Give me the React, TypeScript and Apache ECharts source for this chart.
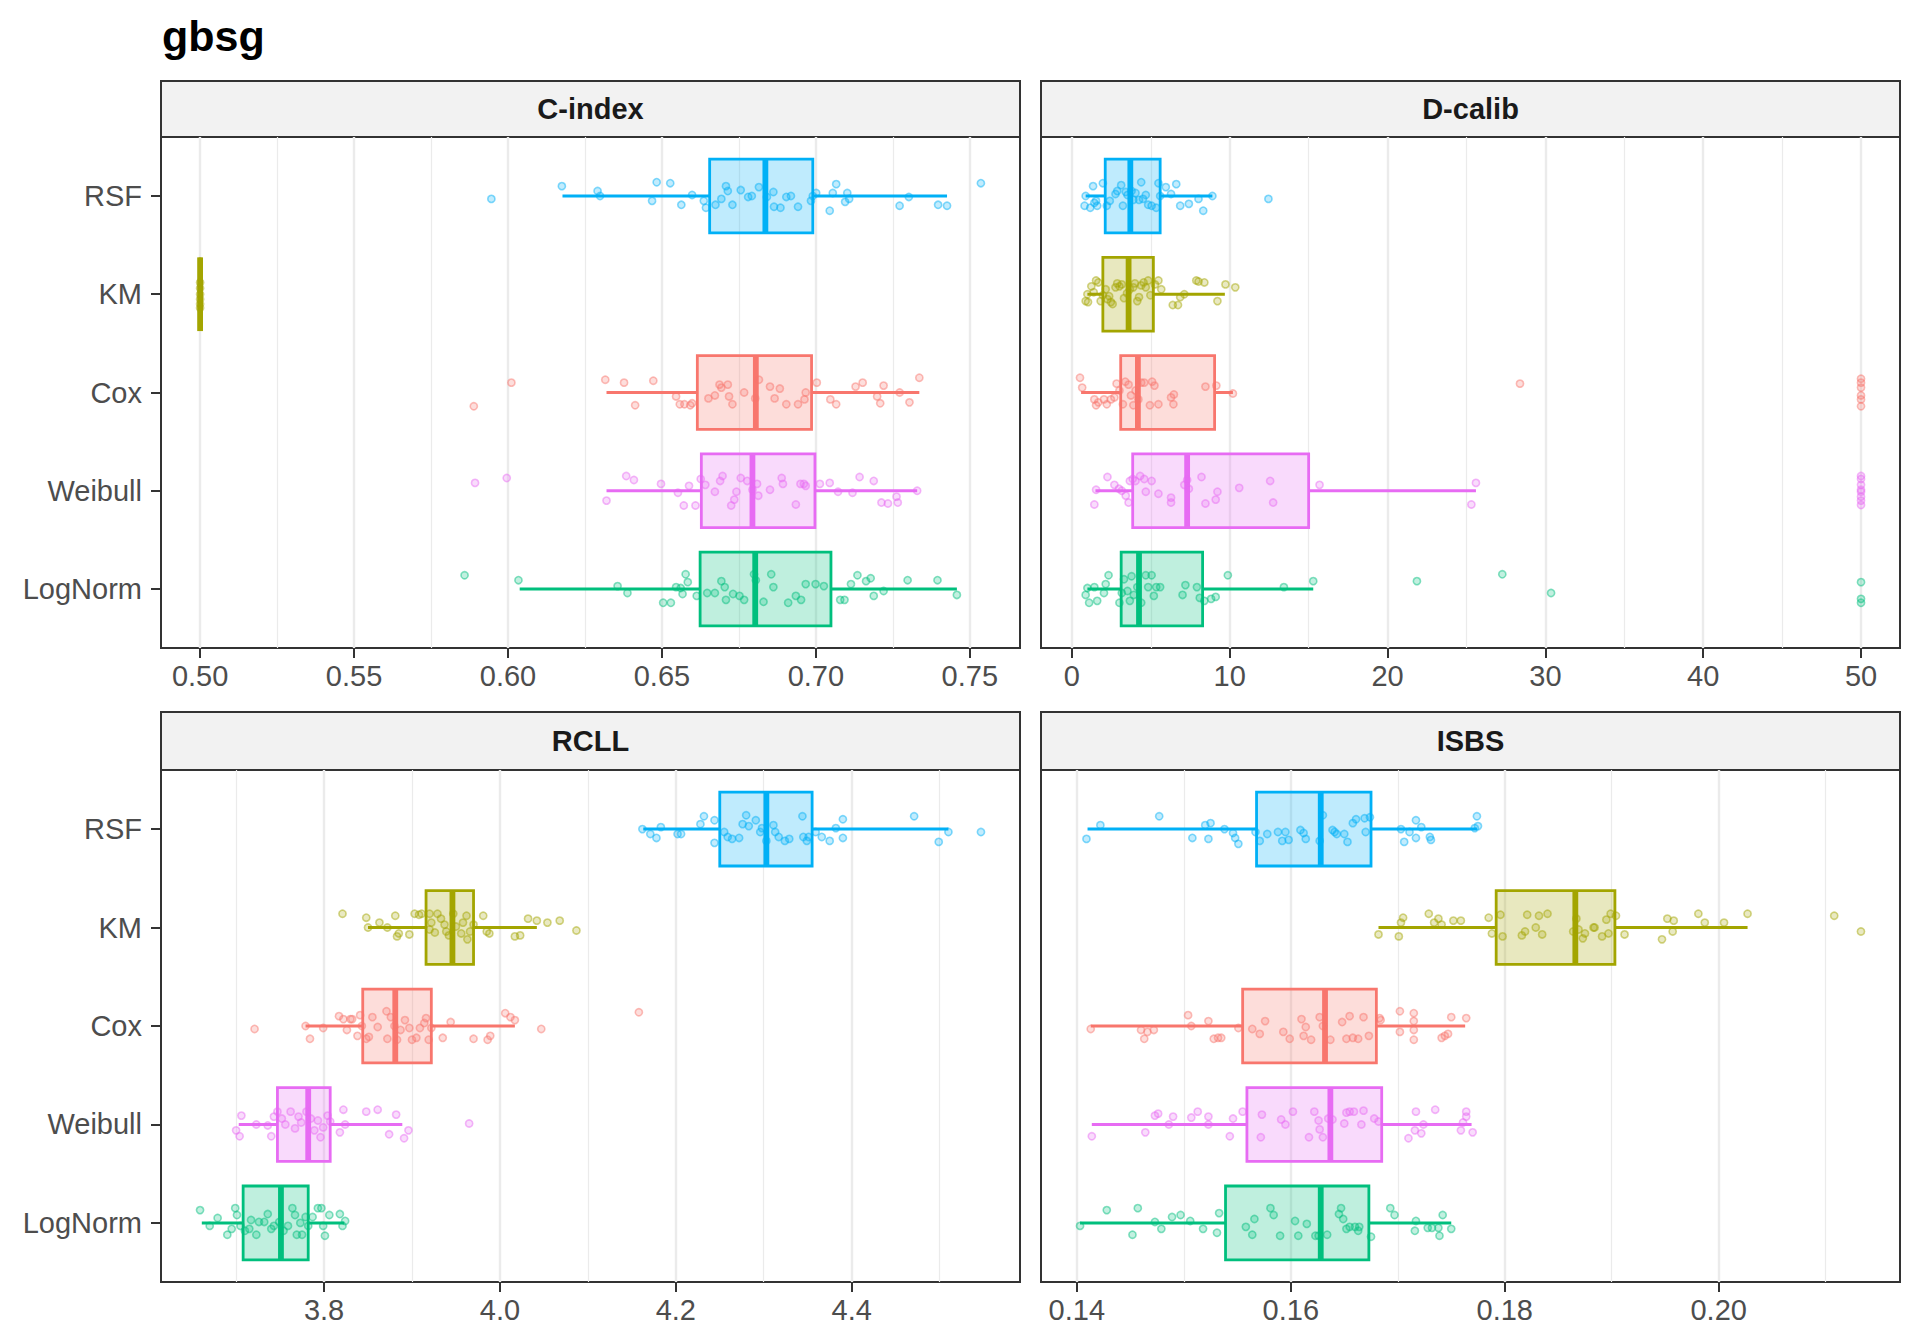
import * as echarts from 'echarts';
import React, { useEffect, useRef } from 'react';

const FONT = '"Liberation Sans", Arial, Helvetica, sans-serif';

const methods = ['RSF', 'KM', 'Cox', 'Weibull', 'LogNorm'];
const colors = ['#00B0F6', '#A3A500', '#F8766D', '#E76BF3', '#00BF7D'];

// box stats per method: [lower whisker, Q1, median, Q3, upper whisker]
const cBox = [
  [0.6177, 0.6655, 0.6836, 0.699, 0.7426],
  [0.5, 0.5, 0.5, 0.5, 0.5],
  [0.632, 0.6615, 0.6805, 0.6986, 0.7336],
  [0.632, 0.6628, 0.6794, 0.6997, 0.7329],
  [0.6038, 0.6624, 0.6803, 0.7049, 0.7458],
];
const dBox = [
  [0.87, 2.11, 3.7, 5.59, 8.9],
  [0.98, 1.96, 3.59, 5.16, 9.69],
  [0.58, 3.09, 4.18, 9.04, 10.2],
  [1.49, 3.85, 7.3, 15.0, 25.6],
  [0.98, 3.12, 4.25, 8.28, 15.29],
];
const rBox = [
  [4.163, 4.25, 4.303, 4.355, 4.51],
  [3.85, 3.916, 3.946, 3.97, 4.042],
  [3.779, 3.844, 3.881, 3.922, 4.017],
  [3.703, 3.747, 3.782, 3.807, 3.889],
  [3.661, 3.708, 3.751, 3.782, 3.823],
];
const iBox = [
  [0.141, 0.1568, 0.1628, 0.1675, 0.1774],
  [0.1682, 0.1792, 0.1866, 0.1903, 0.2027],
  [0.1413, 0.1555, 0.1632, 0.168, 0.1763],
  [0.1414, 0.1559, 0.1637, 0.1685, 0.1769],
  [0.1403, 0.1539, 0.1628, 0.1673, 0.175],
];

// jittered runs: [value, vertical jitter]
const cRsf = [[0.5946,0.03],[0.6175,-0.1],[0.6291,-0.05],[0.6299,0],[0.6468,0.05],[0.6483,-0.14],[0.6527,-0.13],[0.6563,0.09],[0.6598,-0.01],[0.6636,0.05],[0.6643,0.12],[0.6674,0.09],[0.6693,0.03],[0.6708,-0.1],[0.6714,-0.05],[0.6729,0.09],[0.6756,-0.06],[0.678,0.01],[0.6792,0],[0.6815,-0.09],[0.6841,0.01],[0.6862,-0.04],[0.6864,0.11],[0.6885,0.12],[0.6904,0.01],[0.6919,0],[0.6942,0.11],[0.6984,0.05],[0.699,0],[0.7001,-0.03],[0.7045,0.15],[0.7055,-0.03],[0.7066,-0.12],[0.7095,0.06],[0.7102,-0.03],[0.7108,0.03],[0.7272,0.1],[0.7302,0.01],[0.7397,0.09],[0.7426,0.1],[0.7536,-0.13]];
const cKm = [[0.5,-0.12],[0.5,-0.06],[0.5,0],[0.5,0.05],[0.5,0.1],[0.5,0.14]];
const cCox = [[0.5889,0.14],[0.6011,-0.1],[0.6316,-0.13],[0.6377,-0.1],[0.6413,0.13],[0.6472,-0.12],[0.6546,0.04],[0.6558,0.12],[0.6573,0.12],[0.6592,0.13],[0.6598,0.11],[0.6651,0.06],[0.6672,0.03],[0.6687,-0.08],[0.6693,-0.05],[0.6714,-0.08],[0.6718,0.04],[0.6729,0.12],[0.6767,0],[0.6803,0.06],[0.6815,-0.13],[0.6851,-0.06],[0.6866,0.06],[0.6883,-0.04],[0.6904,0.12],[0.6942,0.12],[0.6963,0.07],[0.6967,0],[0.7003,-0.1],[0.7047,0.07],[0.7066,0.12],[0.7129,-0.06],[0.7152,-0.1],[0.7199,0.04],[0.7209,0.11],[0.722,-0.07],[0.7272,0],[0.7304,0.1],[0.7336,-0.15]];
const cWei = [[0.5893,-0.08],[0.5996,-0.13],[0.632,0.1],[0.6384,-0.15],[0.6409,-0.11],[0.6497,-0.07],[0.6552,0.02],[0.6571,0.15],[0.6588,-0.05],[0.6609,0.15],[0.6626,-0.12],[0.6641,-0.06],[0.6672,0.01],[0.6689,-0.1],[0.6697,-0.15],[0.6725,0.15],[0.6735,0.09],[0.6742,0.01],[0.6756,-0.13],[0.6777,-0.1],[0.6794,-0.01],[0.6809,-0.07],[0.6813,0.05],[0.6851,-0.01],[0.6889,-0.13],[0.6893,-0.07],[0.6935,0.14],[0.695,-0.07],[0.6961,-0.07],[0.6967,-0.05],[0.7013,-0.07],[0.7045,-0.08],[0.7072,0.01],[0.7119,0.02],[0.7142,-0.14],[0.7188,-0.1],[0.7213,0.12],[0.7234,0.13],[0.7262,0.06],[0.7266,0.12],[0.7329,0]];
const cLog = [[0.5859,-0.14],[0.6034,-0.09],[0.6356,-0.03],[0.6388,0.04],[0.6504,0.14],[0.6529,0.14],[0.6546,-0.02],[0.6561,-0.01],[0.6567,0.05],[0.6577,-0.15],[0.6584,-0.07],[0.6613,0.07],[0.6647,0.04],[0.6672,0.04],[0.6693,-0.08],[0.6704,-0.02],[0.6708,0.11],[0.6731,0.05],[0.6752,0.07],[0.6767,0.11],[0.6799,-0.15],[0.6805,-0.09],[0.683,0.13],[0.6855,-0.15],[0.6862,-0.02],[0.691,0.14],[0.6935,0.07],[0.6952,0.11],[0.6967,-0.05],[0.6999,-0.05],[0.7026,-0.03],[0.7079,0.11],[0.7093,0.11],[0.7114,-0.05],[0.7135,-0.14],[0.7163,-0.08],[0.7178,-0.11],[0.7188,0.07],[0.722,0.02],[0.7298,-0.09],[0.7395,-0.09],[0.7458,0.06]];

const dRsf = [[0.87,0],[0.8,0.1],[1.16,0.12],[1.34,-0.1],[1.53,0.05],[1.42,0.07],[1.6,0.1],[1.96,-0.13],[2.21,0.1],[2.4,0.05],[2.76,-0.02],[2.87,-0.05],[3.12,-0.11],[3.23,0.1],[3.41,-0.04],[3.52,-0.01],[3.78,-0.05],[3.89,0.04],[4.03,-0.03],[4.25,0.04],[4.39,-0.14],[4.5,0.03],[4.68,-0.01],[4.83,0.09],[5.05,0.1],[5.34,0.12],[5.48,-0.13],[5.59,0],[5.95,-0.09],[6.28,-0.02],[6.61,-0.12],[6.86,0.1],[7.41,0.08],[8.02,0.03],[8.32,0.15],[8.9,0],[12.45,0.03]];
const dKm = [[0.98,0],[0.87,0.07],[1.02,0.08],[1.23,-0.08],[1.38,-0.02],[1.53,-0.14],[1.67,-0.12],[1.82,0.07],[1.96,0.01],[2.14,-0.05],[2.25,0.05],[2.36,0.02],[2.47,0.08],[2.58,0.1],[2.76,-0.07],[2.87,-0.11],[3.01,-0.08],[3.16,-0.1],[3.3,0.04],[3.49,-0.01],[3.67,-0.05],[3.89,-0.07],[3.99,-0.11],[4.14,0.07],[4.25,0.03],[4.39,-0.09],[4.54,-0.12],[4.68,-0.07],[4.83,-0.14],[4.97,0.01],[5.26,-0.1],[5.48,-0.14],[5.66,-0.05],[6.39,0.11],[6.72,0.11],[6.86,0.03],[7.12,0],[7.88,-0.14],[8.02,-0.13],[8.39,-0.12],[9.22,0.07],[9.73,-0.1],[10.35,-0.07]];
const dCox = [[0.51,-0.15],[0.65,-0.05],[1.42,0.07],[1.53,0.13],[1.67,0.1],[2.03,0.07],[2.21,0.12],[2.47,0.07],[2.69,0.05],[2.83,-0.09],[3.01,-0.02],[3.23,0.12],[3.38,-0.11],[3.59,-0.08],[3.74,0.03],[3.89,0.13],[4.03,-0.02],[4.21,0.07],[4.39,-0.1],[4.58,-0.1],[4.94,0.13],[5.08,-0.11],[5.23,-0.07],[5.48,0.12],[6.28,0.05],[6.46,0.02],[6.43,0.12],[8.46,-0.06],[9.15,-0.07],[10.2,0.01],[28.39,-0.09],[50,-0.14],[50,-0.1],[50,-0.05],[50,0.03],[50,0.07],[50,0.14]];
const dWei = [[1.42,0.14],[1.53,-0.01],[2.25,-0.14],[2.69,-0.06],[2.98,-0.02],[3.16,0],[3.41,0.05],[3.59,0.12],[3.67,-0.1],[3.85,-0.12],[4.03,-0.1],[4.32,-0.15],[4.58,-0.12],[4.68,0.01],[5.05,-0.1],[5.48,0.03],[6.28,0.07],[6.28,0.12],[7.12,-0.06],[7.3,-0.11],[7.41,-0.02],[8.21,-0.14],[8.46,0.13],[9.11,0.09],[9.22,0.01],[10.6,-0.03],[12.56,-0.1],[12.75,0.12],[15.69,-0.06],[25.31,0.14],[25.6,-0.08],[50,-0.15],[50,-0.12],[50,-0.06],[50,-0.01],[50,0.01],[50,0.06],[50,0.1],[50,0.145]];
const dLog = [[0.98,-0.01],[0.87,0.06],[1.09,0.14],[1.42,-0.02],[1.6,0.12],[2.03,0.04],[2.14,-0.05],[2.32,-0.14],[3.01,0.14],[3.16,0.04],[3.3,-0.1],[3.52,0.02],[3.67,0.12],[3.78,-0.13],[3.92,0.06],[4.14,-0.02],[4.39,0.14],[4.68,-0.14],[4.83,-0.02],[5.05,-0.14],[5.19,0.07],[5.34,-0.02],[5.59,-0.02],[7.01,0.06],[7.19,-0.04],[7.92,-0.02],[8.1,0.09],[8.39,0.12],[8.82,0.1],[9.11,0.08],[9.88,-0.14],[13.43,-0.02],[15.29,-0.08],[21.86,-0.08],[27.27,-0.15],[30.36,0.04],[50,-0.07],[50,0.1],[50,0.14]];

const rRsf = [[4.162,0],[4.171,0.05],[4.178,0.09],[4.183,-0.02],[4.202,0.05],[4.206,0.05],[4.228,-0.05],[4.232,-0.13],[4.244,-0.09],[4.244,0.14],[4.255,0.03],[4.259,0.08],[4.264,0.1],[4.272,0.09],[4.276,-0.05],[4.28,-0.14],[4.283,-0.03],[4.291,-0.09],[4.296,0.03],[4.298,-0.01],[4.303,0.12],[4.311,-0.04],[4.313,0.03],[4.317,0.08],[4.324,0.12],[4.329,0.1],[4.344,-0.13],[4.345,0.08],[4.349,0.12],[4.351,0.08],[4.359,0.03],[4.366,0.08],[4.375,0.12],[4.382,-0.01],[4.39,-0.1],[4.39,0.09],[4.471,-0.13],[4.499,0.13],[4.51,0.03],[4.547,0.03]];
const rKm = [[3.821,-0.14],[3.848,-0.1],[3.85,0],[3.863,-0.05],[3.872,0],[3.881,-0.12],[3.883,0.09],[3.885,0.06],[3.897,0.07],[3.903,-0.14],[3.908,-0.13],[3.911,-0.14],[3.92,-0.14],[3.92,0.02],[3.922,-0.05],[3.926,0.05],[3.929,-0.14],[3.933,-0.09],[3.937,-0.03],[3.939,0.04],[3.942,0.08],[3.947,-0.14],[3.95,-0.01],[3.956,0.06],[3.958,-0.05],[3.962,-0.12],[3.963,0.12],[3.966,0.04],[3.97,-0.03],[3.981,-0.12],[3.985,0.04],[3.988,0.06],[4.017,0.09],[4.023,0.08],[4.032,-0.09],[4.042,-0.07],[4.054,-0.05],[4.068,-0.07],[4.087,0.03]];
const rCox = [[3.721,0.03],[3.779,0],[3.784,0.13],[3.799,0.02],[3.817,-0.1],[3.822,-0.07],[3.826,0.04],[3.83,-0.07],[3.832,-0.07],[3.838,0.1],[3.841,-0.11],[3.843,0],[3.848,0.13],[3.851,0.11],[3.855,-0.09],[3.861,0.01],[3.871,-0.15],[3.872,0.13],[3.876,-0.09],[3.88,0],[3.883,0.14],[3.887,0.04],[3.892,-0.06],[3.897,0.02],[3.9,0.14],[3.905,0.12],[3.909,0.02],[3.914,-0.03],[3.916,-0.08],[3.919,0.14],[3.922,0.02],[3.935,0.12],[3.944,-0.04],[3.97,0.13],[3.986,0.14],[3.989,0.1],[4.006,-0.13],[4.012,-0.09],[4.017,-0.06],[4.047,0.03],[4.158,-0.14]];
const rWei = [[3.7,0.06],[3.704,0.12],[3.706,-0.09],[3.723,0],[3.736,0.01],[3.74,0.12],[3.743,-0.08],[3.747,-0.13],[3.752,-0.06],[3.756,0],[3.762,-0.13],[3.767,0.04],[3.771,-0.08],[3.774,-0.02],[3.78,-0.13],[3.785,-0.06],[3.789,0.06],[3.793,-0.04],[3.796,0.13],[3.799,0.03],[3.804,-0.09],[3.807,-0.03],[3.818,0.08],[3.822,-0.15],[3.824,0],[3.848,-0.13],[3.861,-0.15],[3.874,0.1],[3.882,-0.1],[3.891,0.14],[3.896,0.06],[3.965,-0.01]];
const rLog = [[3.659,-0.13],[3.67,0.03],[3.679,-0.05],[3.69,0.12],[3.695,0.06],[3.699,-0.15],[3.701,-0.08],[3.705,0.03],[3.71,0.08],[3.715,0.06],[3.717,-0.03],[3.723,0.12],[3.726,-0.01],[3.732,-0.01],[3.736,-0.09],[3.74,0.06],[3.743,0.03],[3.749,-0.01],[3.754,0.08],[3.759,0.03],[3.764,-0.15],[3.767,-0.08],[3.769,0.12],[3.773,0],[3.775,0.12],[3.779,-0.06],[3.782,0.03],[3.787,-0.06],[3.793,-0.15],[3.797,-0.15],[3.799,0.03],[3.801,0.13],[3.806,-0.08],[3.818,-0.09],[3.821,0.03],[3.824,-0.02]];

const iRsf = [[0.1409,0.1],[0.1422,-0.04],[0.1477,-0.13],[0.1508,0.09],[0.152,-0.04],[0.1523,0.1],[0.1525,-0.06],[0.1538,0],[0.1546,0.04],[0.1548,0.09],[0.1551,0.15],[0.1567,0.03],[0.1571,0.12],[0.1578,0.05],[0.1588,0.03],[0.1592,0.12],[0.1595,0.03],[0.1598,0.11],[0.1609,0.01],[0.1612,0.04],[0.1614,0.1],[0.1627,0.12],[0.163,-0.14],[0.1639,0.01],[0.1641,0.03],[0.1643,0.05],[0.165,0.05],[0.1653,0.13],[0.1658,-0.06],[0.1661,-0.1],[0.1669,-0.11],[0.167,0.03],[0.1674,-0.12],[0.1703,0],[0.1706,0.13],[0.1711,0.03],[0.1717,-0.09],[0.1722,-0.02],[0.1717,0.09],[0.173,0.08],[0.1731,0.11],[0.1772,-0.01],[0.1774,-0.13],[0.1775,-0.03]];
const iKm = [[0.1682,0.07],[0.1701,0.09],[0.1703,-0.05],[0.1705,-0.1],[0.1729,-0.14],[0.1734,-0.05],[0.1738,-0.09],[0.1741,-0.03],[0.1752,-0.07],[0.1759,-0.07],[0.1785,-0.1],[0.1788,0.06],[0.1796,-0.13],[0.1798,0.09],[0.1816,0.08],[0.1819,0.04],[0.1821,-0.13],[0.1829,0],[0.1832,-0.12],[0.1835,0.07],[0.184,-0.14],[0.1864,0.04],[0.1867,-0.09],[0.1869,0.02],[0.1873,0.11],[0.1875,0.06],[0.1883,0],[0.1884,0],[0.1891,0.09],[0.1895,-0.08],[0.1897,0.06],[0.1899,-0.14],[0.1904,-0.12],[0.1912,0.07],[0.1947,0.12],[0.1952,-0.09],[0.1957,0.04],[0.1958,-0.07],[0.1981,-0.14],[0.1987,-0.05],[0.2005,-0.05],[0.2027,-0.14],[0.2108,-0.12],[0.2133,0.04]];
const iCox = [[0.1413,0.03],[0.146,0.04],[0.1463,0.13],[0.1466,0.06],[0.1472,0.04],[0.1504,-0.11],[0.1507,0],[0.1523,-0.05],[0.1528,0.13],[0.1532,0.12],[0.1535,0.12],[0.1551,0.02],[0.1564,0.03],[0.1571,0.08],[0.1576,-0.05],[0.1593,0.06],[0.1599,0.13],[0.161,-0.07],[0.1612,0.1],[0.1614,0.01],[0.1619,0.14],[0.1627,-0.09],[0.163,0],[0.1637,0.14],[0.1648,-0.04],[0.1652,0.13],[0.1655,-0.1],[0.1658,0.12],[0.1663,0.13],[0.1668,-0.09],[0.1673,0.1],[0.1683,-0.08],[0.1684,-0.06],[0.1702,-0.15],[0.1702,0.06],[0.1715,-0.13],[0.1715,-0.05],[0.1715,0.04],[0.1715,0.14],[0.1741,0.12],[0.1744,0.1],[0.1747,0.08],[0.175,-0.09],[0.1764,-0.08]];
const iWei = [[0.1414,0.12],[0.1464,0.08],[0.1473,-0.09],[0.1476,-0.11],[0.1486,0],[0.149,-0.08],[0.1507,-0.07],[0.1513,-0.13],[0.1523,0],[0.1523,-0.08],[0.1543,0.12],[0.1546,-0.06],[0.1555,-0.13],[0.1572,0.13],[0.1573,-0.1],[0.1591,-0.05],[0.1595,0],[0.1602,-0.13],[0.1617,0.13],[0.1622,-0.13],[0.1626,-0.04],[0.1627,0.05],[0.163,0.13],[0.1635,-0.06],[0.1639,-0.05],[0.165,-0.01],[0.1652,-0.12],[0.1655,-0.13],[0.1659,-0.13],[0.1666,0],[0.1668,-0.14],[0.1678,-0.06],[0.1682,-0.03],[0.171,0.14],[0.1716,0.06],[0.1717,-0.13],[0.1722,0.09],[0.1724,0],[0.1735,-0.15],[0.1759,0.06],[0.1761,-0.02],[0.1764,-0.08],[0.1764,-0.13],[0.177,0.08]];
const iLog = [[0.1403,0.03],[0.1428,-0.13],[0.1452,0.12],[0.1457,-0.15],[0.1473,-0.01],[0.1479,0.06],[0.1489,-0.06],[0.1497,-0.08],[0.1506,-0.02],[0.1518,0.06],[0.1531,0.1],[0.1533,-0.1],[0.1558,0.04],[0.1564,0.12],[0.1566,-0.04],[0.1581,-0.15],[0.1584,-0.08],[0.159,0.13],[0.1604,-0.02],[0.1607,0.13],[0.1615,0.01],[0.1623,0.13],[0.1626,0.13],[0.1634,0.12],[0.1645,-0.09],[0.1647,-0.15],[0.1649,-0.04],[0.1652,0.06],[0.1655,0.04],[0.166,0.04],[0.1663,0.08],[0.1664,0.04],[0.1675,0.14],[0.1693,-0.15],[0.1697,-0.08],[0.1716,0.08],[0.1717,-0.02],[0.1728,0.05],[0.1732,0.05],[0.1738,0.05],[0.1739,0.13],[0.1742,-0.08],[0.175,0.06]];

// axis breaks
const cMajor = [0.5, 0.55, 0.6, 0.65, 0.7, 0.75];
const cMinor = [0.525, 0.575, 0.625, 0.675, 0.725];
const dMajor = [0, 10, 20, 30, 40, 50];
const dMinor = [5, 15, 25, 35, 45];
const rMajor = [3.8, 4.0, 4.2, 4.4];
const rMinor = [3.7, 3.9, 4.1, 4.3, 4.5];
const iMajor = [0.14, 0.16, 0.18, 0.2];
const iMinor = [0.15, 0.17, 0.19, 0.21];

const panels = [
  { title: 'C-index', range: [0.4873, 0.7663], major: cMajor, minor: cMinor, digits: 2, box: cBox, pts: [cRsf, cKm, cCox, cWei, cLog] },
  { title: 'D-calib', range: [-1.96, 52.47], major: dMajor, minor: dMinor, digits: 0, box: dBox, pts: [dRsf, dKm, dCox, dWei, dLog] },
  { title: 'RCLL', range: [3.6146, 4.5914], major: rMajor, minor: rMinor, digits: 1, box: rBox, pts: [rRsf, rKm, rCox, rWei, rLog] },
  { title: 'ISBS', range: [0.13665, 0.21695], major: iMajor, minor: iMinor, digits: 2, box: iBox, pts: [iRsf, iKm, iCox, iWei, iLog] },
];

// panel geometry: [left, top, width, height]
const grids = [
  [161, 137, 859, 511],
  [1041, 137, 859, 511],
  [161, 770, 859, 512],
  [1041, 770, 859, 512],
];
const strips = [
  [161, 81, 859, 56],
  [1041, 81, 859, 56],
  [161, 712, 859, 58],
  [1041, 712, 859, 58],
];

const rgba = (hex: string, a: number) => {
  const n = parseInt(hex.slice(1), 16);
  return `rgba(${(n >> 16) & 255},${(n >> 8) & 255},${n & 255},${a})`;
};

// background grid as vertical mark lines on an empty series, kept underneath the boxes
const gridLineSeries = (k: number, major: number[], minor: number[]) => ({
  type: 'scatter',
  xAxisIndex: k,
  yAxisIndex: k,
  silent: true,
  z: 0,
  data: [],
  markLine: {
    silent: true,
    z: 0,
    precision: 6,
    symbol: 'none',
    animation: false,
    label: { show: false },
    emphasis: { disabled: true },
    data: [
      ...minor.map((v) => ({ xAxis: v, lineStyle: { color: '#EBEBEB', width: 1.2, type: 'solid' } })),
      ...major.map((v) => ({ xAxis: v, lineStyle: { color: '#EBEBEB', width: 2.4, type: 'solid' } })),
    ],
  },
});

const boxSeries = (k: number, box: number[][]) => ({
  type: 'custom',
  xAxisIndex: k,
  yAxisIndex: k,
  silent: true,
  z: 6,
  encode: { x: [1, 2, 3, 4, 5], y: 0 },
  data: box.map((b, i) => [i, ...b]),
  renderItem: (params: any, api: any) => {
    const i = api.value(0);
    const col = colors[i];
    const pLo = api.coord([api.value(1), i]);
    const pQ1 = api.coord([api.value(2), i - 0.375]);
    const pMed = api.coord([api.value(3), i]);
    const pQ3 = api.coord([api.value(4), i + 0.375]);
    const pHi = api.coord([api.value(5), i]);
    const yTop = Math.min(pQ1[1], pQ3[1]);
    const yBot = Math.max(pQ1[1], pQ3[1]);
    const cy = pMed[1];
    return {
      type: 'group',
      children: [
        { type: 'line', shape: { x1: pLo[0], y1: cy, x2: pQ1[0], y2: cy }, style: { stroke: col, lineWidth: 3 } },
        { type: 'line', shape: { x1: pQ3[0], y1: cy, x2: pHi[0], y2: cy }, style: { stroke: col, lineWidth: 3 } },
        {
          type: 'rect',
          shape: { x: pQ1[0], y: yTop, width: pQ3[0] - pQ1[0], height: yBot - yTop },
          style: { fill: rgba(col, 0.25), stroke: col, lineWidth: 2.8 },
        },
        { type: 'line', shape: { x1: pMed[0], y1: yTop, x2: pMed[0], y2: yBot }, style: { stroke: col, lineWidth: 5.8 } },
      ],
    };
  },
});

const App = () => {
  const chartRef = useRef<HTMLDivElement>(null);

  useEffect(() => {
    if (!chartRef.current) return;
    const chart = echarts.init(chartRef.current, undefined, { renderer: 'svg' });

    const series: any[] = [];
    panels.forEach((p, k) => {
      series.push(gridLineSeries(k, p.major, p.minor));
      series.push(boxSeries(k, p.box));
      p.pts.forEach((pts, i) => {
        series.push({
          type: 'scatter',
          name: methods[i],
          xAxisIndex: k,
          yAxisIndex: k,
          silent: true,
          z: 7,
          symbol: 'circle',
          symbolSize: 7.2,
          itemStyle: { color: rgba(colors[i], 0.3), borderColor: rgba(colors[i], 0.6), borderWidth: 1.6 },
          data: pts.map(([v, j]) => [v, i + j]),
        });
      });
    });

    const graphic: any[] = [
      {
        type: 'text',
        left: 162,
        top: 14,
        style: { text: 'gbsg', font: `bold 43px ${FONT}`, fill: '#000000' },
      },
    ];
    strips.forEach(([x, y, w, h], k) => {
      graphic.push({
        type: 'rect',
        shape: { x, y, width: w, height: h },
        style: { fill: '#F2F2F2', stroke: '#333333', lineWidth: 2 },
      });
      graphic.push({
        type: 'text',
        x: x + w / 2,
        y: y + h / 2,
        style: {
          text: panels[k].title,
          font: `bold 29px ${FONT}`,
          fill: '#1A1A1A',
          textAlign: 'center',
          textVerticalAlign: 'middle',
        },
      });
    });

    chart.setOption({
      animation: false,
      backgroundColor: '#FFFFFF',
      grid: grids.map(([left, top, width, height]) => ({
        left,
        top,
        width,
        height,
        show: true,
        borderColor: '#333333',
        borderWidth: 2,
        backgroundColor: 'transparent',
      })),
      xAxis: panels.map((p, k) => ({
        type: 'value',
        gridIndex: k,
        position: 'bottom',
        min: p.range[0],
        max: p.range[1],
        axisLine: { show: false, onZero: false },
        splitLine: { show: false },
        axisTick: { show: true, length: 10, lineStyle: { color: '#333333', width: 2 }, customValues: p.major },
        axisLabel: {
          customValues: p.major,
          formatter: (v: number) => v.toFixed(p.digits),
          margin: 13,
          fontSize: 29,
          fontFamily: FONT,
          color: '#4D4D4D',
        },
      })),
      yAxis: panels.map((p, k) => ({
        type: 'value',
        gridIndex: k,
        show: k % 2 === 0,
        position: 'left',
        min: -0.6,
        max: 4.6,
        inverse: true,
        axisLine: { show: false, onZero: false },
        splitLine: { show: false },
        axisTick: {
          show: k % 2 === 0,
          length: 10,
          lineStyle: { color: '#333333', width: 2 },
          customValues: [0, 1, 2, 3, 4],
        },
        axisLabel: {
          show: k % 2 === 0,
          customValues: [0, 1, 2, 3, 4],
          formatter: (v: number) => methods[Math.round(v)],
          margin: 19,
          fontSize: 29,
          fontFamily: FONT,
          color: '#4D4D4D',
        },
      })),
      graphic,
      series,
    });

    return () => {
      chart.dispose();
    };
  }, []);

  return (
    <div
      ref={chartRef}
      style={{ position: 'absolute', left: 0, top: 0, width: '1920px', height: '1344px', background: '#fff' }}
    />
  );
};

export default App;
